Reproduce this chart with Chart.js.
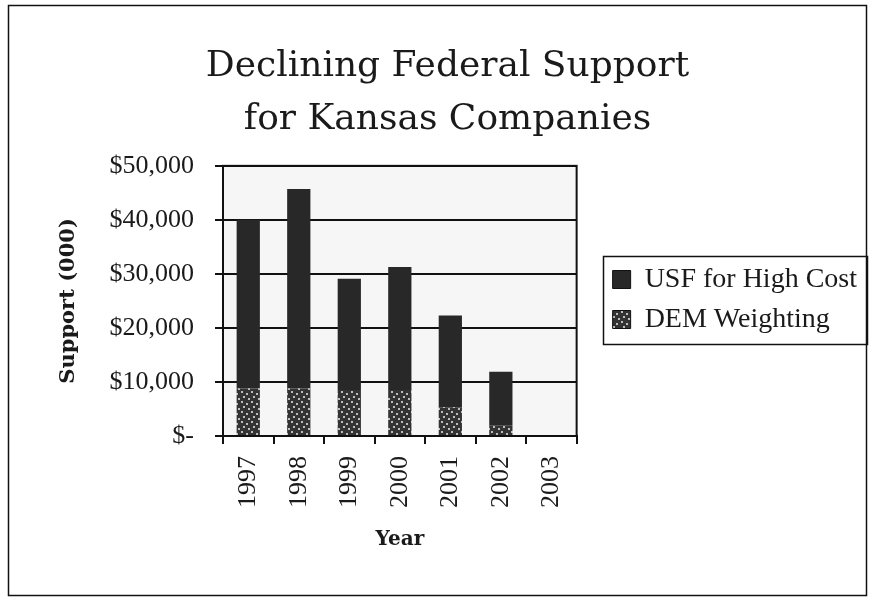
<!DOCTYPE html>
<html>
<head>
<meta charset="utf-8">
<script src="https://cdn.jsdelivr.net/npm/chart.js@4.4.1/dist/chart.umd.min.js"></script>
<style>
  html, body { margin: 0; padding: 0; background: #fff; }
  #wrap { width: 873px; height: 599px; position: relative; }
</style>
</head>
<body>
<div id="wrap"><canvas id="c" width="873" height="599"></canvas></div>
<script>
const years = ['1997', '1998', '1999', '2000', '2001', '2002', '2003'];
const usfHighCost = [31200, 36900, 20600, 22800, 17000, 9900, 0];
const demWeighting = [8800, 8800, 8500, 8500, 5300, 2000, 0];
const yTicks = [0, 10000, 20000, 30000, 40000, 50000];

const SERIF_WIDE = '"DejaVu Serif", serif';
const SERIF = '"Liberation Serif", "Times New Roman", serif';

function makeSpeckle() {
  const p = document.createElement('canvas');
  p.width = 10; p.height = 10;
  const g = p.getContext('2d');
  g.fillStyle = '#333333';
  g.fillRect(0, 0, 10, 10);
  g.fillStyle = '#bdbdbd';
  const dots = [[1,1],[6,3],[3,6],[8,8]];
  dots.forEach(d => g.fillRect(d[0], d[1], 2, 2));
  return g.createPattern(p, 'repeat');
}
const ctx0 = document.getElementById('c').getContext('2d');
const demPattern = makeSpeckle();

const framePlugin = {
  id: 'frame',
  beforeDraw(chart) {
    const c = chart.ctx;
    const a = chart.chartArea;
    c.save();
    c.fillStyle = '#f6f6f6';
    c.fillRect(a.left, a.top, a.right - a.left, a.bottom - a.top);
    c.restore();
  },
  afterDraw(chart) {
    const c = chart.ctx;
    const a = chart.chartArea;
    c.save();
    c.strokeStyle = '#111';
    c.lineWidth = 2;
    c.strokeRect(a.left, a.top, a.right - a.left, a.bottom - a.top);
    // outer frame
    c.lineWidth = 1.5;
    c.strokeRect(8.5, 5.5, 858, 590);
    // legend box
    const lg = chart.legend;
    if (lg && lg.legendHitBoxes && lg.legendHitBoxes.length) {
      const hb = lg.legendHitBoxes;
      let x0 = Infinity, y0 = Infinity, x1 = -Infinity, y1 = -Infinity;
      hb.forEach(h => { x0 = Math.min(x0, h.left); y0 = Math.min(y0, h.top); x1 = Math.max(x1, h.left + h.width); y1 = Math.max(y1, h.top + h.height); });
      c.lineWidth = 1.5;
      c.strokeRect(Math.round(x0 - 10) + 0.5, Math.round(y0 - 10) + 0.5, Math.round(x1 - x0 + 20), Math.round(y1 - y0 + 20));
    }
    c.restore();
  }
};

new Chart(ctx0, {
  type: 'bar',
  data: {
    labels: years,
    datasets: [
      { label: 'DEM Weighting', data: demWeighting, backgroundColor: demPattern, borderWidth: 0 },
      { label: 'USF for High Cost', data: usfHighCost, backgroundColor: '#282828', borderWidth: 0 }
    ]
  },
  options: {
    responsive: false,
    animation: false,
    devicePixelRatio: 1,
    layout: { padding: { left: 28, right: 6, top: 0, bottom: 0 }, autoPadding: false },
    datasets: { bar: { barPercentage: 0.46, categoryPercentage: 1.0 } },
    plugins: {
      title: {
        display: true,
        text: ['Declining Federal Support', 'for Kansas Companies'],
        font: { family: SERIF_WIDE, size: 36, weight: 'normal', lineHeight: 1.47 },
        color: '#1a1a1a',
        padding: { top: 40, bottom: 20 }
      },
      legend: {
        position: 'right',
        maxWidth: 320,
        labels: {
          font: { family: SERIF, size: 28 },
          color: '#1a1a1a',
          boxWidth: 18,
          boxHeight: 18,
          padding: 12,
          generateLabels(chart) {
            return chart.data.datasets.map((ds, i) => ({
              text: ds.label,
              fillStyle: ds.backgroundColor,
              strokeStyle: '#111',
              lineWidth: 1,
              hidden: false,
              datasetIndex: i,
              fontColor: '#1a1a1a'
            })).reverse();
          }
        }
      },
      tooltip: { enabled: false }
    },
    scales: {
      x: {
        stacked: true,
        grid: { offset: true, drawOnChartArea: false, drawTicks: true, tickLength: 8, color: '#111', lineWidth: 2 },
        border: { display: true, color: '#111', width: 2 },
        ticks: {
          minRotation: 90, maxRotation: 90, padding: 12,
          font: { family: SERIF, size: 26 }, color: '#1a1a1a'
        },
        title: {
          display: true, text: 'Year',
          font: { family: SERIF_WIDE, size: 20, weight: 'bold' }, color: '#1a1a1a',
          padding: { top: 8, bottom: 47 }
        }
      },
      y: {
        stacked: true,
        min: 0, max: 50000,
        afterBuildTicks(scale) { scale.ticks = yTicks.map(v => ({ value: v })); },
        afterFit(scale) { scale.width = 223 - 28; },
        grid: { color: '#111', lineWidth: 2, tickLength: 8, drawTicks: true },
        border: { display: true, color: '#111', width: 2 },
        ticks: {
          padding: 21,
          font: { family: SERIF, size: 26 }, color: '#1a1a1a',
          callback(v) { return v === 0 ? '$-' : '$' + Number(v).toLocaleString('en-US'); }
        },
        title: {
          display: true, text: 'Support (000)',
          font: { family: SERIF_WIDE, size: 21, weight: 'bold' }, color: '#1a1a1a',
          padding: { top: 28, bottom: 0 }
        }
      },
      gap: {
        position: 'right',
        display: true,
        afterFit(scale) { scale.width = 24; },
        grid: { display: false, drawTicks: false },
        border: { display: false },
        ticks: { display: false }
      }
    }
  },
  plugins: [framePlugin]
});
</script>
</body>
</html>
